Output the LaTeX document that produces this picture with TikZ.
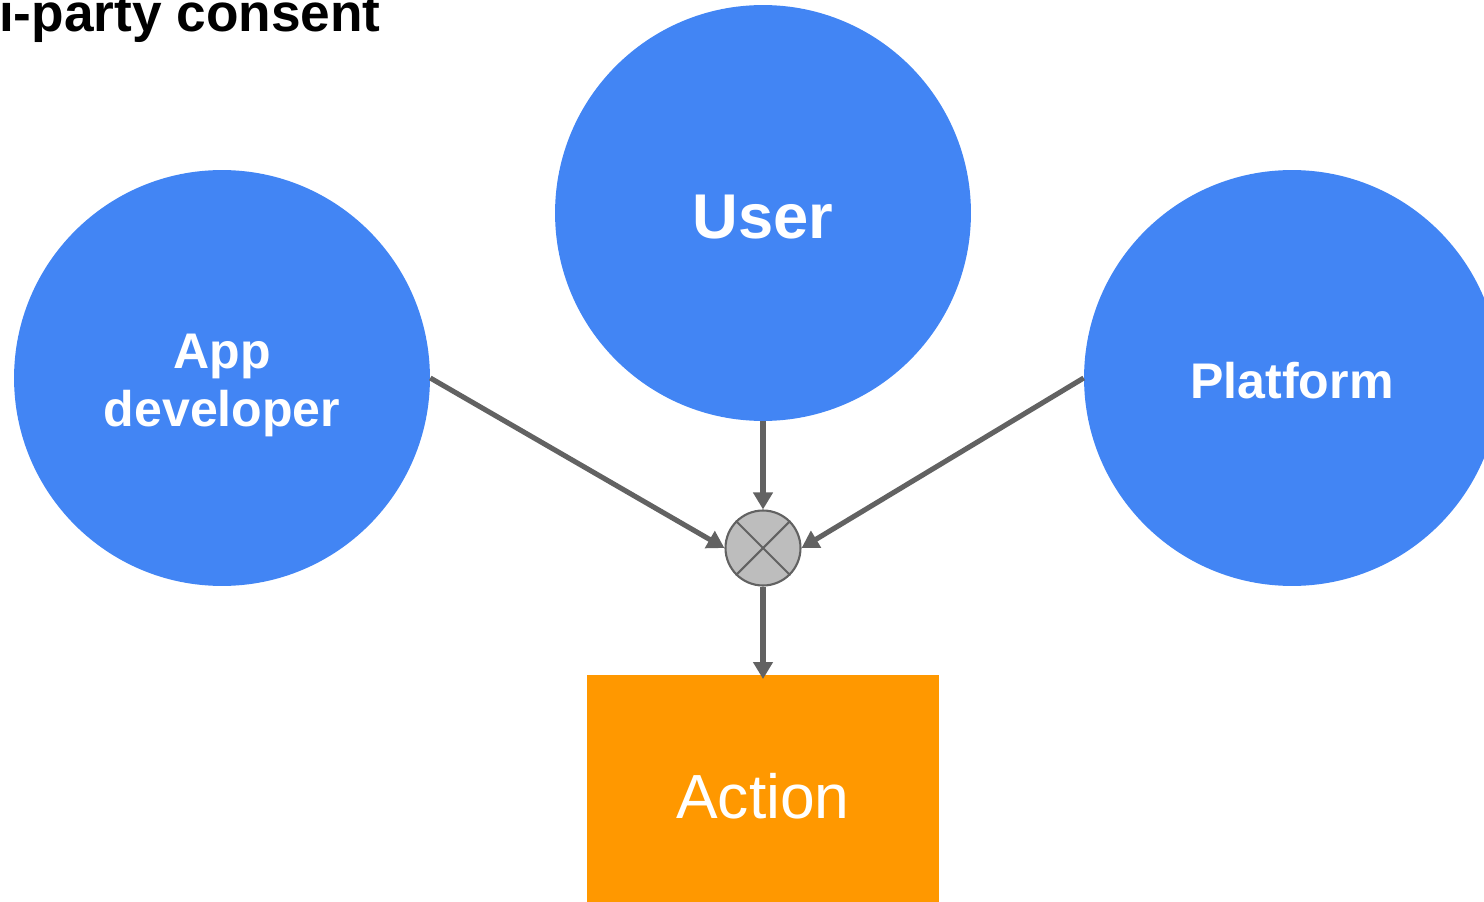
\documentclass[tikz,border=0pt]{standalone}
\usepackage{fontspec}
\setmainfont{Liberation Sans}
\usepackage{xcolor}
\usetikzlibrary{positioning, arrows.meta}

\definecolor{gblue}{HTML}{4285F4}
\definecolor{gorange}{HTML}{FF9800}
\definecolor{linegray}{HTML}{626262}
\definecolor{crossgray}{HTML}{BDBDBD}

\newcommand{\lowered}[2]{\raisebox{-#1}[\height][\depth]{#2}}

\begin{document}
\begin{tikzpicture}[
    x=0.02cm, y=-0.02cm,
    party/.style={circle, fill=gblue, text=white, minimum size=8.32cm, inner sep=0pt,
        align=center, font=\bfseries\fontsize{28.5}{33}\selectfont},
    junction/.style={circle, draw=linegray, line width=1.2pt, fill=crossgray, minimum size=1.5cm, inner sep=0pt},
    outcome/.style={rectangle, fill=gorange, text=white, minimum width=7.06cm, minimum height=4.84cm,
        font=\fontsize{35.5}{40}\selectfont},
    arrow/.style={-{Triangle[length=0.34cm, width=0.38cm]}, line width=2.9pt, draw=linegray}
]
\path[use as bounding box, clip] (0,0) rectangle (1484,902);

% Title
\node[anchor=base east, inner sep=0pt, font=\bfseries\fontsize{30.3}{34}\selectfont] (title) at (381,32) {Multi-party consent};

% Parties
\node[party] (user) at (763,213) {\fontsize{36}{40}\selectfont\lowered{0.08cm}{User}};
\node[party] (appdev) at (222,378) {\lowered{0.14cm}{App}\\\lowered{0.14cm}{developer}};
\node[party] (platform) at (1292,378) {\lowered{0.06cm}{Platform}};

% Consent junction
\node[junction] (cross) at (763,548) {};
\draw[linegray, line width=1.2pt] (cross.north west) -- (cross.south east);
\draw[linegray, line width=1.2pt] (cross.north east) -- (cross.south west);

% Result
\node[outcome, below=1.77cm of cross] (action) {Action};

% Arrows
\draw[arrow] (user.south) -- (cross.north);
\draw[arrow] (appdev.east) -- (cross.west);
\draw[arrow] (platform.west) -- (cross.east);
\draw[arrow] (cross.south) -- ([yshift=-0.08cm]action.north);

\end{tikzpicture}
\end{document}
